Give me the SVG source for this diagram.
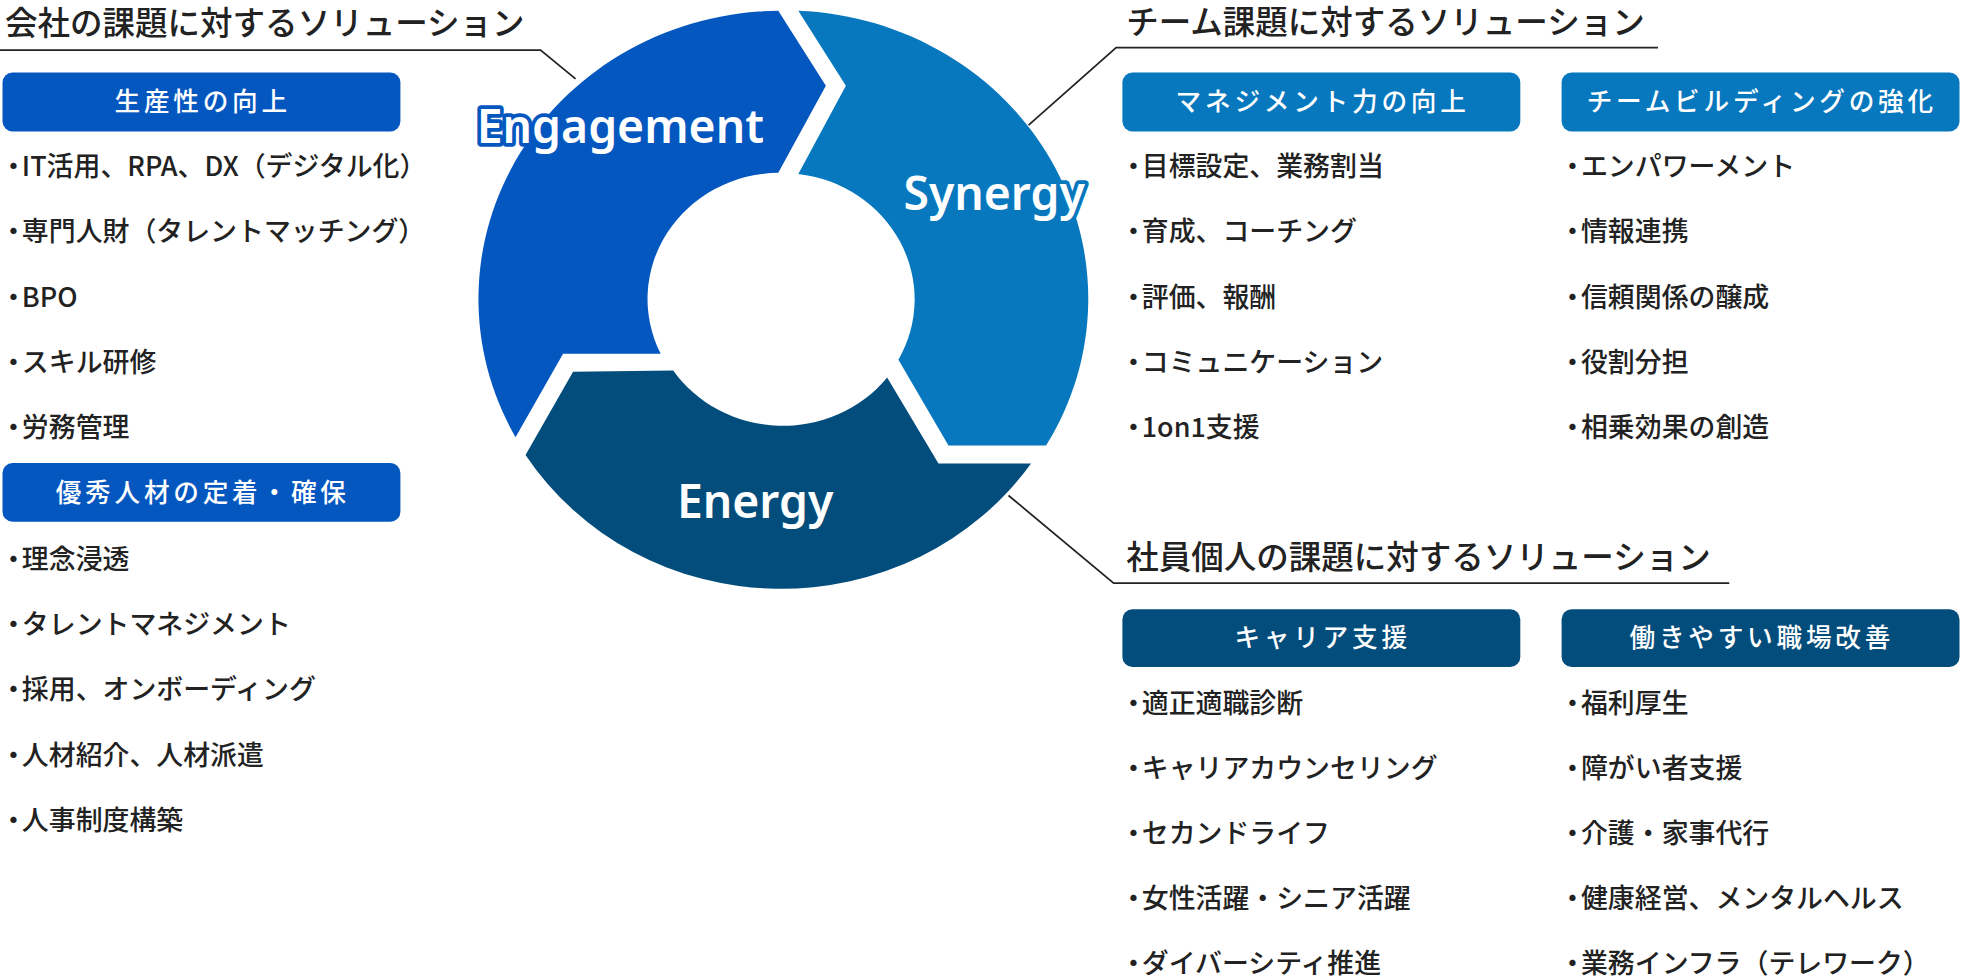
<svg xmlns="http://www.w3.org/2000/svg" width="1962" height="978" viewBox="0 0 1962 978">
<style>
text{font-family:"Noto Sans CJK JP","Noto Sans",sans-serif}
.t{font-size:26px;font-weight:500;fill:#222}
.i{font-size:21.5px;font-weight:500;fill:#222}
.b{font-size:20.5px;font-weight:500;fill:#fff;text-anchor:middle;letter-spacing:3px}
.c{fill:none;stroke:#222;stroke-width:1.4}
.lab{font-family:"Noto Sans",sans-serif;font-size:37px;font-weight:600;fill:#fff;paint-order:stroke;stroke-width:6;stroke-linejoin:round}
</style>
<rect width="1962" height="978" fill="#fff"/>
<g transform="scale(1.25128)">
<g id="connectors">
<polyline class="c" points="0,40 432,40 460,63"/>
<polyline class="c" points="1325,38 892,38 822,100"/>
<polyline class="c" points="806,396 890,466 1382,466"/>
</g>
<g id="engagement">
<path transform="scale(1,0.952)" fill="#0557c0" d="M622,9 L660,72 L622,145 A106,106 0 0,0 528,297 L450,297 L412,367 A242,242 0 0,1 622,9 Z"/>
<text class="lab" x="381" y="114" stroke="#0557c0">Engagement</text>
</g>
<g id="synergy">
<path transform="scale(1,0.952)" fill="#0777be" d="M638,9 L676,72 L638,146 A106,106 0 0,1 718,302 L758,374 L836,374 A242,242 0 0,0 638,9 Z"/>
<text class="lab" x="722" y="168" stroke="#0777be">Synergy</text>
</g>
<g id="energy">
<path transform="scale(1,0.952)" fill="#034d7c" d="M538,311 L458,312 L420,382 A242,242 0 0,0 824,389 L750,389 L709,317 A106,106 0 0,1 538,311 Z"/>
<text class="lab" x="541" y="414" stroke="#034d7c">Energy</text>
</g>
<g id="company">
<text class="t" x="4" y="28">会社の課題に対するソリューション</text>
<rect x="2" y="58" width="318" height="47" rx="8" fill="#0557c0"/>
<text class="b" x="162" y="89">生産性の向上</text>
<text class="i" x="0" y="141">・<tspan dx="-4">IT活用、RPA、DX（デジタル化）</tspan></text>
<text class="i" x="0" y="193">・<tspan dx="-4">専門人財（タレントマッチング）</tspan></text>
<text class="i" x="0" y="245">・<tspan dx="-4">BPO</tspan></text>
<text class="i" x="0" y="297">・<tspan dx="-4">スキル研修</tspan></text>
<text class="i" x="0" y="349">・<tspan dx="-4">労務管理</tspan></text>
<rect x="2" y="370" width="318" height="47" rx="8" fill="#0557c0"/>
<text class="b" x="162" y="401">優秀人材の定着・確保</text>
<text class="i" x="0" y="455">・<tspan dx="-4">理念浸透</tspan></text>
<text class="i" x="0" y="507">・<tspan dx="-4">タレントマネジメント</tspan></text>
<text class="i" x="0" y="559">・<tspan dx="-4">採用、オンボーディング</tspan></text>
<text class="i" x="0" y="611">・<tspan dx="-4">人材紹介、人材派遣</tspan></text>
<text class="i" x="0" y="663">・<tspan dx="-4">人事制度構築</tspan></text>
</g>
<g id="team">
<text class="t" x="900" y="27">チーム課題に対するソリューション</text>
<rect x="897" y="58" width="318" height="47" rx="8" fill="#0777be"/>
<text class="b" x="1057" y="89">マネジメント力の向上</text>
<text class="i" x="895" y="141">・<tspan dx="-4">目標設定、業務割当</tspan></text>
<text class="i" x="895" y="193">・<tspan dx="-4">育成、コーチング</tspan></text>
<text class="i" x="895" y="245">・<tspan dx="-4">評価、報酬</tspan></text>
<text class="i" x="895" y="297">・<tspan dx="-4">コミュニケーション</tspan></text>
<text class="i" x="895" y="349">・<tspan dx="-4">1on1支援</tspan></text>
<rect x="1248" y="58" width="318" height="47" rx="8" fill="#0777be"/>
<text class="b" x="1408" y="89">チームビルディングの強化</text>
<text class="i" x="1246" y="141">・<tspan dx="-4">エンパワーメント</tspan></text>
<text class="i" x="1246" y="193">・<tspan dx="-4">情報連携</tspan></text>
<text class="i" x="1246" y="245">・<tspan dx="-4">信頼関係の醸成</tspan></text>
<text class="i" x="1246" y="297">・<tspan dx="-4">役割分担</tspan></text>
<text class="i" x="1246" y="349">・<tspan dx="-4">相乗効果の創造</tspan></text>
</g>
<g id="individual">
<text class="t" x="900" y="455">社員個人の課題に対するソリューション</text>
<rect x="897" y="487" width="318" height="46" rx="8" fill="#034d7c"/>
<text class="b" x="1057" y="517">キャリア支援</text>
<text class="i" x="895" y="570">・<tspan dx="-4">適正適職診断</tspan></text>
<text class="i" x="895" y="622">・<tspan dx="-4">キャリアカウンセリング</tspan></text>
<text class="i" x="895" y="674">・<tspan dx="-4">セカンドライフ</tspan></text>
<text class="i" x="895" y="726">・<tspan dx="-4">女性活躍・シニア活躍</tspan></text>
<text class="i" x="895" y="778">・<tspan dx="-4">ダイバーシティ推進</tspan></text>
<rect x="1248" y="487" width="318" height="46" rx="8" fill="#034d7c"/>
<text class="b" x="1408" y="517">働きやすい職場改善</text>
<text class="i" x="1246" y="570">・<tspan dx="-4">福利厚生</tspan></text>
<text class="i" x="1246" y="622">・<tspan dx="-4">障がい者支援</tspan></text>
<text class="i" x="1246" y="674">・<tspan dx="-4">介護・家事代行</tspan></text>
<text class="i" x="1246" y="726">・<tspan dx="-4">健康経営、メンタルヘルス</tspan></text>
<text class="i" x="1246" y="778">・<tspan dx="-4">業務インフラ（テレワーク）</tspan></text>
</g>
</g>
</svg>
